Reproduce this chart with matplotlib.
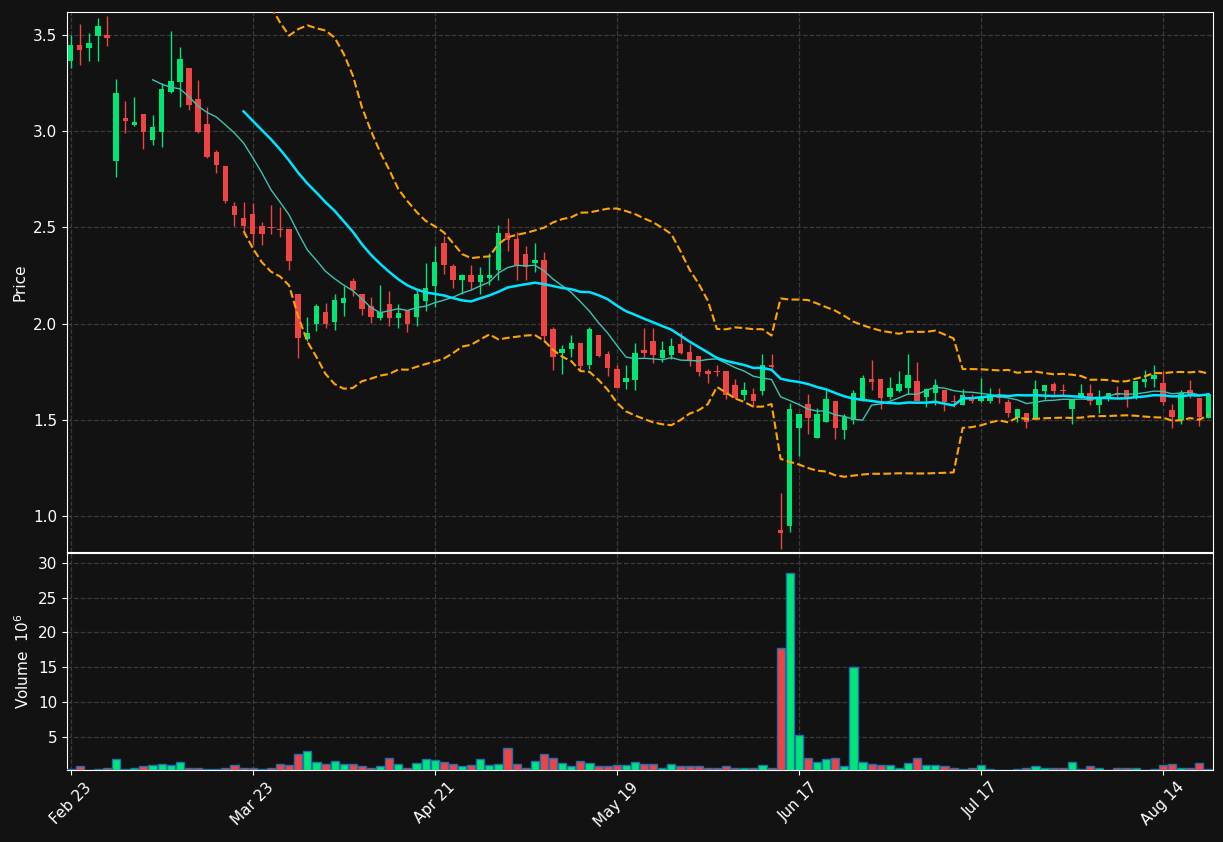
import numpy as np
import pandas as pd
import matplotlib
matplotlib.use('Agg')
import matplotlib.pyplot as plt

# daily OHLC (index = trading day)
opens = [3.367, 3.448, 3.434, 3.497, 3.5, 2.845, 3.068, 3.032, 3.09, 2.954,
         2.997, 3.205, 3.257, 3.328, 3.167, 3.037, 2.892, 2.819, 2.611, 2.547,
         2.569, 2.51, 2.5, 2.49, 2.49, 2.153, 1.92, 1.997, 2.06, 2.008,
         2.108, 2.221, 2.156, 2.09, 2.03, 2.1, 2.03, 2.069, 2.035, 2.118,
         2.196, 2.42, 2.3, 2.226, 2.252, 2.215, 2.236, 2.281, 2.472, 2.44,
         2.361, 2.316, 2.33, 1.97, 1.847, 1.868, 1.9, 1.783, 1.94, 1.842,
         1.762, 1.696, 1.705, 1.861, 1.908, 1.823, 1.835, 1.892, 1.851, 1.83,
         1.752, 1.753, 1.752, 1.679, 1.627, 1.632, 1.649, 1.783, 0.93, 0.946,
         1.457, 1.58, 1.405, 1.488, 1.6, 1.448, 1.5, 1.597, 1.71, 1.71,
         1.618, 1.649, 1.667, 1.7, 1.618, 1.641, 1.656, 1.596, 1.578, 1.621,
         1.597, 1.597, 1.621, 1.592, 1.51, 1.538, 1.51, 1.648, 1.688, 1.653,
         1.554, 1.615, 1.641, 1.578, 1.606, 1.641, 1.653, 1.621, 1.696, 1.71,
         1.691, 1.549, 1.5, 1.653, 1.613, 1.509]
highs = [3.5, 3.557, 3.512, 3.587, 3.6, 3.27, 3.16, 3.18, 3.09, 3.083,
         3.25, 3.519, 3.436, 3.328, 3.266, 3.124, 2.902, 2.819, 2.632, 2.632,
         2.625, 2.528, 2.616, 2.604, 2.49, 2.153, 2.035, 2.1, 2.105, 2.153,
         2.195, 2.24, 2.156, 2.139, 2.203, 2.168, 2.1, 2.069, 2.174, 2.318,
         2.405, 2.455, 2.309, 2.26, 2.307, 2.295, 2.368, 2.512, 2.549, 2.479,
         2.406, 2.417, 2.373, 1.983, 1.887, 1.94, 1.9, 1.983, 1.94, 1.858,
         1.783, 1.783, 1.9, 1.977, 1.977, 1.908, 1.927, 1.957, 1.892, 1.83,
         1.762, 1.783, 1.752, 1.71, 1.696, 1.667, 1.84, 1.84, 1.12, 1.587,
         1.531, 1.632, 1.562, 1.653, 1.6, 1.531, 1.656, 1.731, 1.809, 1.71,
         1.722, 1.752, 1.844, 1.8, 1.667, 1.71, 1.656, 1.627, 1.661, 1.635,
         1.719, 1.667, 1.667, 1.609, 1.557, 1.538, 1.708, 1.679, 1.696, 1.684,
         1.609, 1.688, 1.688, 1.656, 1.641, 1.675, 1.653, 1.7, 1.76, 1.783,
         1.753, 1.583, 1.653, 1.708, 1.613, 1.632]
lows = [3.327, 3.347, 3.368, 3.368, 3.446, 2.76, 2.99, 3.027, 2.91, 2.93,
        2.916, 3.2, 3.124, 3.11, 2.99, 2.859, 2.784, 2.628, 2.509, 2.48,
        2.408, 2.408, 2.464, 2.448, 2.28, 1.82, 1.91, 1.963, 1.98, 1.966,
        2.04, 2.145, 2.047, 2.003, 2.021, 1.99, 1.977, 1.957, 1.988, 2.066,
        2.087, 2.26, 2.187, 2.153, 2.174, 2.156, 2.2, 2.229, 2.377, 2.229,
        2.229, 2.27, 1.905, 1.757, 1.74, 1.826, 1.754, 1.766, 1.826, 1.728,
        1.665, 1.658, 1.653, 1.826, 1.797, 1.8, 1.816, 1.84, 1.78, 1.727,
        1.69, 1.727, 1.61, 1.606, 1.604, 1.566, 1.63, 1.766, 0.828, 0.915,
        1.314, 1.427, 1.405, 1.488, 1.4, 1.4, 1.479, 1.597, 1.653, 1.557,
        1.609, 1.644, 1.635, 1.597, 1.569, 1.575, 1.545, 1.566, 1.578, 1.587,
        1.592, 1.587, 1.587, 1.514, 1.488, 1.458, 1.51, 1.609, 1.627, 1.627,
        1.479, 1.615, 1.578, 1.535, 1.597, 1.615, 1.566, 1.609, 1.67, 1.67,
        1.575, 1.458, 1.479, 1.615, 1.47, 1.509]
closes = [3.448, 3.422, 3.458, 3.547, 3.486, 3.198, 3.055, 3.048, 2.997, 3.022,
          3.219, 3.261, 3.375, 3.136, 2.997, 2.867, 2.826, 2.637, 2.566, 2.507,
          2.467, 2.468, 2.499, 2.488, 2.327, 1.926, 1.952, 2.093, 1.997, 2.122,
          2.134, 2.174, 2.075, 2.035, 2.061, 2.03, 2.057, 2.0, 2.153, 2.187,
          2.32, 2.304, 2.226, 2.252, 2.215, 2.252, 2.252, 2.472, 2.434, 2.307,
          2.295, 2.33, 1.934, 1.826, 1.87, 1.9, 1.78, 1.97, 1.832, 1.77,
          1.665, 1.719, 1.849, 1.847, 1.835, 1.861, 1.882, 1.847, 1.812, 1.748,
          1.738, 1.751, 1.627, 1.615, 1.653, 1.597, 1.783, 1.774, 0.91, 1.557,
          1.531, 1.51, 1.531, 1.61, 1.457, 1.514, 1.642, 1.72, 1.696, 1.615,
          1.668, 1.689, 1.731, 1.597, 1.658, 1.679, 1.595, 1.592, 1.63, 1.597,
          1.613, 1.627, 1.615, 1.535, 1.557, 1.488, 1.658, 1.679, 1.648, 1.65,
          1.609, 1.641, 1.597, 1.615, 1.641, 1.63, 1.621, 1.7, 1.71, 1.731,
          1.595, 1.517, 1.641, 1.635, 1.514, 1.632]
volumes = [0.35, 0.8, 0.2, 0.35, 0.5, 1.9, 0.45, 0.5, 0.8, 0.95,
           1.05, 0.9, 1.45, 0.6, 0.6, 0.35, 0.35, 0.6, 0.9, 0.5,
           0.5, 0.35, 0.6, 1.05, 0.9, 2.6, 3.05, 1.45, 1.15, 1.6,
           1.15, 1.15, 0.8, 0.6, 0.8, 2.0, 1.05, 0.6, 1.3, 1.9,
           1.75, 1.45, 1.05, 0.8, 0.9, 1.9, 1.0, 1.15, 3.4, 1.15,
           0.6, 1.6, 2.6, 2.0, 1.3, 0.8, 1.6, 1.3, 0.8, 0.8,
           0.9, 0.9, 1.45, 1.15, 1.15, 0.6, 1.15, 0.8, 0.8, 0.8,
           0.5, 0.6, 0.8, 0.5, 0.6, 0.6, 1.0, 0.6, 17.8, 28.5,
           5.3, 2.0, 1.45, 1.9, 2.0, 0.8, 15.0, 1.45, 1.15, 0.9,
           0.9, 0.6, 1.3, 2.0, 0.9, 0.9, 0.8, 0.6, 0.35, 0.5,
           0.9, 0.35, 0.3, 0.3, 0.35, 0.6, 0.8, 0.6, 0.6, 0.5,
           1.45, 0.35, 0.8, 0.6, 0.3, 0.6, 0.5, 0.5, 0.3, 0.35,
           1.0, 1.15, 0.6, 0.6, 1.3, 0.35]
tick_idx = [0, 20, 40, 60, 80, 100, 120]
tick_labels = ['Feb 23', 'Mar 23', 'Apr 21', 'May 19', 'Jun 17', 'Jul 17', 'Aug 14']

BG = '#121212'
UP = '#00e676'
DOWN = '#ef4444'

df = pd.DataFrame({'open': opens, 'high': highs, 'low': lows,
                   'close': closes, 'volume': volumes})
x = np.arange(len(df))
up = df['close'] >= df['open']
colors = np.where(up, UP, DOWN)

mav10 = df['close'].rolling(10).mean()
mav20 = df['close'].rolling(20).mean()
std20 = df['close'].rolling(20).std()
bb_up = mav20 + 2 * std20
bb_lo = mav20 - 2 * std20

fig = plt.figure(figsize=(12.23, 8.42), dpi=100, facecolor=BG)
ax = fig.add_axes([0.0548, 0.3444, 0.937, 0.6413], facecolor=BG)
axv = fig.add_axes([0.0548, 0.0855, 0.937, 0.2577], facecolor=BG, sharex=ax)

# candles
ax.vlines(x, df['low'], df['high'], colors=colors, linewidth=1, zorder=2)
body_lo = np.minimum(df['open'], df['close'])
body_h = np.maximum(np.abs(df['close'] - df['open']), 0.004)
ax.bar(x, body_h, bottom=body_lo, width=0.6, color=colors, linewidth=0, zorder=3)

ax.plot(x, mav10, color='#3fc1b0', linewidth=1, zorder=4)
ax.plot(x, mav20, color='#00e5ff', linewidth=1.8, zorder=4)
ax.plot(x, bb_up, color='#ffa500', linestyle='--', linewidth=1.5, zorder=4)
ax.plot(x, bb_lo, color='#ffa500', linestyle='--', linewidth=1.5, zorder=4)

axv.bar(x, df['volume'], width=0.9, color=colors, edgecolor='#1f6fb4',
        linewidth=1, zorder=3)

ax.set_ylim(0.813, 3.62)
ax.set_xlim(-0.4, 125.5)
axv.set_ylim(0.25, 31.4)
ax.set_yticks([1.0, 1.5, 2.0, 2.5, 3.0, 3.5])
ax.set_yticklabels(['%.1f' % v for v in [1.0, 1.5, 2.0, 2.5, 3.0, 3.5]])
axv.set_yticks([5, 10, 15, 20, 25, 30])
axv.set_xticks(tick_idx)
axv.set_xticklabels(tick_labels, rotation=45, ha='center')
plt.setp(ax.get_xticklabels(), visible=False)

ax.set_ylabel('Price', color='white', fontsize=11)
axv.set_ylabel('Volume  $10^6$', color='white', fontsize=11)

for a in (ax, axv):
    a.grid(True, color='#3a3a3a', linestyle='--', linewidth=0.9)
    a.set_axisbelow(True)
    a.tick_params(colors='white', labelsize=11)
    for s in a.spines.values():
        s.set_color('white')

fig.savefig('out.png', dpi=100, facecolor=BG)
